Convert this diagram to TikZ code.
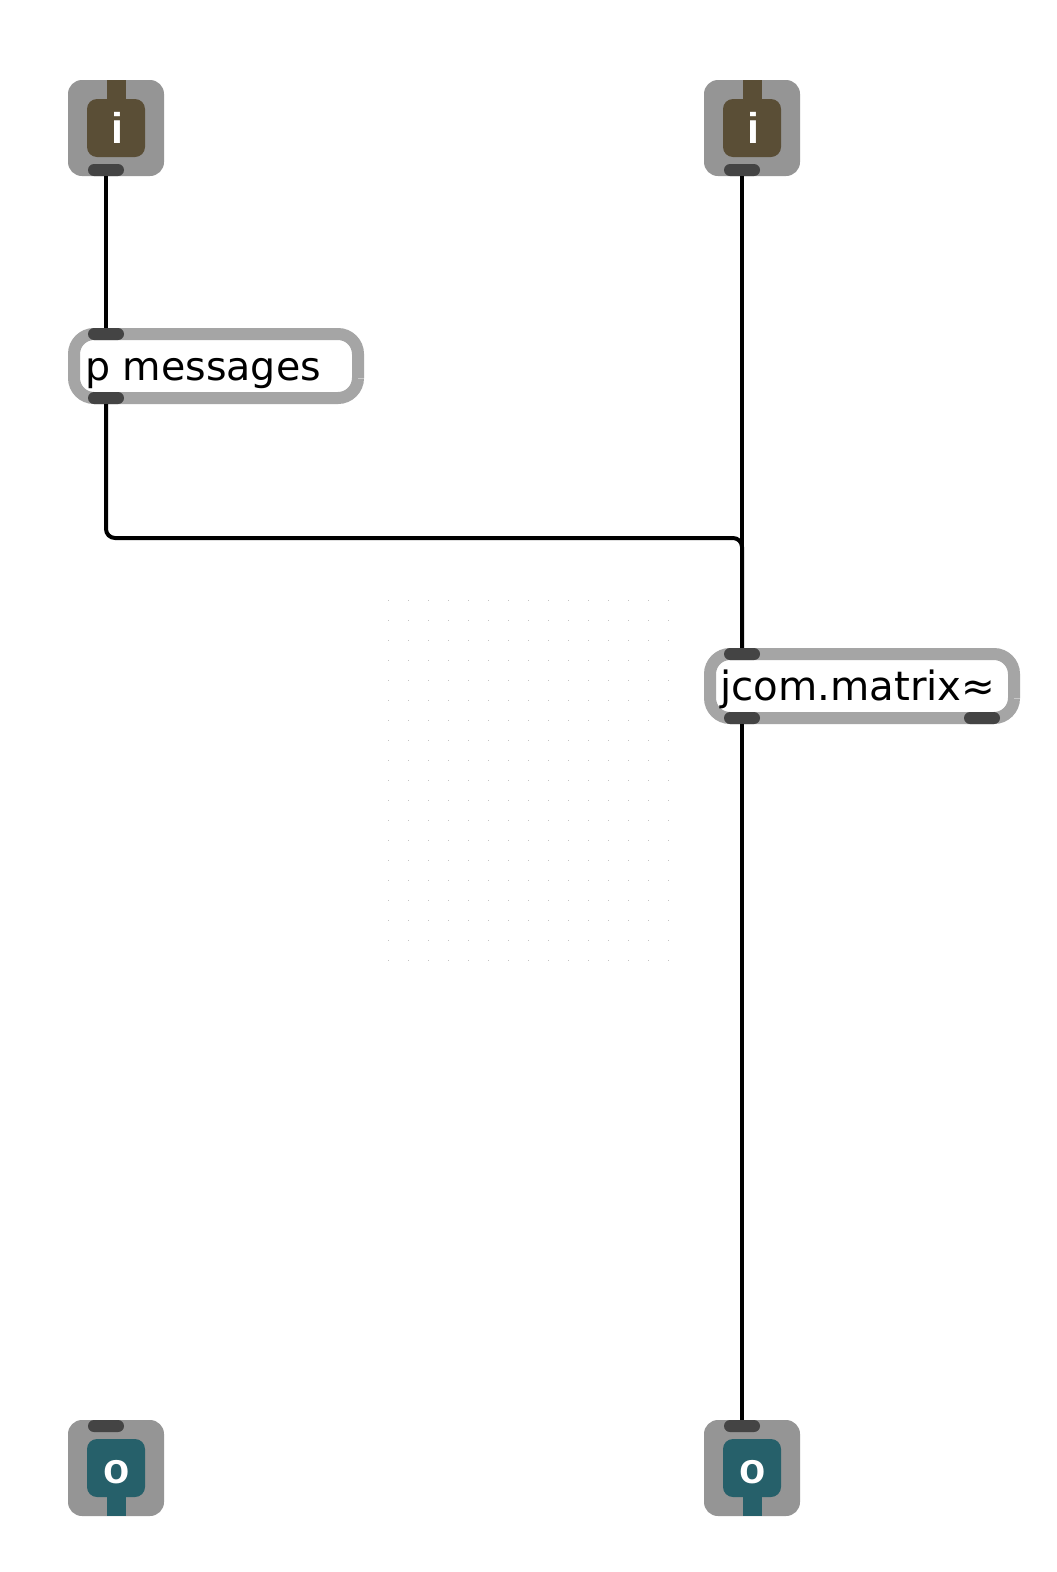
\documentclass[tikz,border=0pt]{standalone}
\usepackage{fontspec}
\setmainfont{DejaVu Sans}
\newfontfamily\ifont{Liberation Sans}
\definecolor{boxgray}{HTML}{959595}
\definecolor{objgray}{HTML}{A5A5A5}
\definecolor{portgray}{HTML}{444444}
\definecolor{brownio}{HTML}{5A4E36}
\definecolor{tealio}{HTML}{26606A}
\definecolor{griddot}{HTML}{C4C4C4}
\definecolor{seam}{HTML}{C8C8C8}
\tikzset{
  iobox/.style={draw=none,fill=boxgray,rounded corners=14pt,minimum width=96pt,minimum height=96pt,inner sep=0pt,anchor=center},
  ioinner/.style={draw=none,fill=#1,rounded corners=10pt,minimum width=58pt,minimum height=58pt,inner sep=0pt,anchor=center},
  iostem/.style={draw=none,fill=#1,minimum width=19pt,minimum height=20pt,inner sep=0pt,anchor=center},
  portpill/.style={draw=none,fill=portgray,rounded corners=6pt,minimum width=36pt,minimum height=12pt,inner sep=0pt,anchor=center},
  objbox/.style={draw=objgray,line width=12pt,fill=white,rounded corners=20pt,inner sep=0pt,anchor=center},
  wire/.style={draw=black,line width=4pt},
  iolabel/.style={text=white,font=\ifont\bfseries\fontsize{43}{43}\selectfont,inner sep=0pt,anchor=base},
  objlabel/.style={text=black,inner sep=0pt,anchor=base west},
}
\begin{document}
\begin{tikzpicture}[x=1pt,y=-1pt]
\useasboundingbox (0,0) rectangle (1057,1572);
\fill[white] (0,0) rectangle (1057,1572);
% faint grid of dots
\foreach \gx in {388,408,...,668}
  \foreach \gy in {600,620,...,960}
    \fill[griddot] (\gx-0.5,\gy-0.5) rectangle (\gx+0.5,\gy+0.5);
% inlets
\node[iobox] (inA) at (116,128) {};
\node[iostem=brownio] (stemA) at (116.5,90) {};
\node[ioinner=brownio] (innerA) at (116,128) {};
\node[iolabel] (labA) at (117,143) {i};
\node[portpill] (outA) at (106,170) {};
\node[iobox] (inB) at (752,128) {};
\node[iostem=brownio] (stemB) at (752.5,90) {};
\node[ioinner=brownio] (innerB) at (752,128) {};
\node[iolabel] (labB) at (753,143) {i};
\node[portpill] (outB) at (742,170) {};
% objects
\node[objbox,minimum width=284pt,minimum height=64pt] (msg) at (216,366) {};
\node[objlabel,font=\fontsize{39.5}{40}\selectfont] (msgtext) at (85,380) {p messages};
\node[portpill] (msgin) at (106,334) {};
\node[portpill] (msgout) at (106,398) {};
\node[objbox,minimum width=304pt,minimum height=64pt] (mat) at (862,686) {};
\node[objlabel,font=\fontsize{40.3}{40}\selectfont] (mattext) at (720,700) {jcom.matrix≈};
\node[portpill] (matin) at (742,654) {};
\node[portpill] (matoutA) at (742,718) {};
\node[portpill] (matoutB) at (982,718) {};
% outlets
\node[iobox] (outC) at (116,1468) {};
\node[iostem=tealio] (stemC) at (116.5,1506) {};
\node[ioinner=tealio] (innerC) at (116,1468) {};
\node[iolabel] (labC) at (116.5,1483) {o};
\node[portpill] (inC) at (106,1426) {};
\node[iobox] (outD) at (752,1468) {};
\node[iostem=tealio] (stemD) at (752.5,1506) {};
\node[ioinner=tealio] (innerD) at (752,1468) {};
\node[iolabel] (labD) at (752.5,1483) {o};
\node[portpill] (inD) at (742,1426) {};
% connectors
\coordinate (bendL) at (106,538);
\coordinate (bendR) at (742,538);
\draw[wire] (outA.south) -- (msgin.north);
\draw[wire] (outB.south) -- (matin.north);
\draw[wire,rounded corners=9pt] (msgout.south) -- (bendL) -- (bendR) -- (matin.north);
\draw[wire] (matoutA.south) -- (inD.north);
% faint seams on the object borders
\draw[seam,line width=1pt] (358,378) -- (364,378);
\draw[seam,line width=1pt] (1014,698) -- (1020,698);
\end{tikzpicture}
\end{document}
